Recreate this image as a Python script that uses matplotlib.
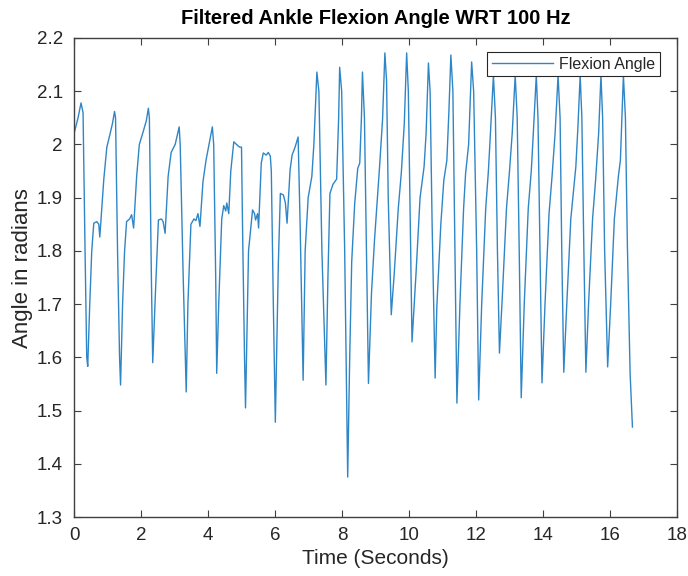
import matplotlib
matplotlib.use("Agg")
import matplotlib.pyplot as plt
import numpy as np

plt.rcParams['font.family'] = ['Liberation Sans', 'DejaVu Sans']

# Key points (time in seconds, angle in radians)
time_s = [
    0.00, 0.12, 0.21, 0.27, 0.33, 0.38, 0.41, 0.47, 0.53, 0.59, 0.68, 0.74, 0.77, 0.83, 0.89, 0.98, 1.07, 1.15, 1.21,
    1.24, 1.30, 1.36, 1.39, 1.45, 1.51, 1.57, 1.66, 1.72, 1.78, 1.87, 1.95, 2.07, 2.16, 2.22,
    2.25, 2.31, 2.35, 2.43, 2.52, 2.61, 2.66, 2.72, 2.81, 2.90, 3.02, 3.14,
    3.17, 3.26, 3.35, 3.40, 3.49, 3.58, 3.64, 3.70, 3.76, 3.85, 3.94, 4.03, 4.13,
    4.17, 4.23, 4.26, 4.32, 4.41, 4.47, 4.53, 4.56, 4.62, 4.68, 4.77, 4.85, 4.94, 5.00,
    5.03, 5.09, 5.12, 5.21, 5.33, 5.39, 5.42, 5.48, 5.51, 5.59, 5.65, 5.74, 5.80, 5.86,
    5.89, 5.95, 6.01, 6.10, 6.16, 6.25, 6.31, 6.36, 6.45, 6.51, 6.60, 6.69,
    6.75, 6.84, 6.90, 6.99, 7.10, 7.16, 7.25,
    7.31, 7.40, 7.52, 7.58, 7.64, 7.73, 7.84, 7.90, 7.93,
    7.99, 8.08, 8.17, 8.23, 8.29, 8.38, 8.47, 8.53, 8.58, 8.61,
    8.67, 8.73, 8.79, 8.88, 8.97, 9.12, 9.21, 9.28,
    9.33, 9.38, 9.47, 9.56, 9.68, 9.77, 9.86, 9.93,
    9.98, 10.04, 10.09, 10.21, 10.33, 10.45, 10.51, 10.58,
    10.63, 10.69, 10.78, 10.83, 10.95, 11.04, 11.13, 11.19, 11.25,
    11.31, 11.37, 11.43, 11.52, 11.63, 11.69, 11.78, 11.87,
    11.93, 12.02, 12.08, 12.17, 12.29, 12.37, 12.43, 12.52,
    12.58, 12.64, 12.70, 12.79, 12.91, 13.00, 13.08, 13.17,
    13.23, 13.29, 13.35, 13.44, 13.56, 13.65, 13.71, 13.80,
    13.85, 13.91, 13.97, 14.06, 14.18, 14.27, 14.36, 14.45,
    14.51, 14.56, 14.62, 14.71, 14.83, 14.98, 15.04, 15.11,
    15.16, 15.22, 15.28, 15.36, 15.48, 15.57, 15.66, 15.73,
    15.78, 15.84, 15.93, 16.02, 16.13, 16.25, 16.31, 16.40,
    16.46, 16.52, 16.60, 16.67,
]
angle_rad = [
    2.020, 2.050, 2.078, 2.060, 1.800, 1.600, 1.583, 1.700, 1.800, 1.852, 1.855, 1.850, 1.826, 1.880, 1.935, 1.995, 2.018, 2.040, 2.062,
    2.050, 1.800, 1.600, 1.548, 1.700, 1.800, 1.855, 1.860, 1.868, 1.843, 1.940, 2.000, 2.025, 2.045, 2.068,
    2.050, 1.750, 1.590, 1.720, 1.858, 1.860, 1.855, 1.833, 1.940, 1.985, 2.000, 2.033,
    2.000, 1.750, 1.535, 1.700, 1.850, 1.860, 1.857, 1.870, 1.846, 1.930, 1.970, 2.000, 2.033,
    2.000, 1.750, 1.570, 1.700, 1.860, 1.885, 1.875, 1.890, 1.870, 1.950, 2.005, 2.000, 1.995, 1.995,
    1.850, 1.600, 1.505, 1.800, 1.877, 1.870, 1.858, 1.870, 1.843, 1.965, 1.984, 1.980, 1.985, 1.978,
    1.950, 1.700, 1.478, 1.777, 1.908, 1.905, 1.890, 1.852, 1.952, 1.980, 1.995, 2.014,
    1.850, 1.557, 1.800, 1.900, 1.940, 2.000, 2.136,
    2.100, 1.800, 1.548, 1.750, 1.908, 1.925, 1.935, 2.050, 2.145,
    2.100, 1.800, 1.375, 1.600, 1.780, 1.890, 1.955, 1.965, 2.050, 2.136,
    2.050, 1.800, 1.551, 1.720, 1.820, 1.957, 2.046, 2.172,
    2.120, 1.900, 1.680, 1.758, 1.880, 1.946, 2.040, 2.172,
    2.100, 1.850, 1.629, 1.758, 1.900, 1.958, 2.020, 2.153,
    2.100, 1.850, 1.561, 1.694, 1.850, 1.933, 1.970, 2.060, 2.168,
    2.100, 1.800, 1.514, 1.700, 1.880, 1.946, 2.000, 2.155,
    2.100, 1.800, 1.520, 1.700, 1.880, 1.950, 2.020, 2.130,
    2.050, 1.800, 1.608, 1.720, 1.880, 1.950, 2.020, 2.130,
    2.050, 1.800, 1.524, 1.700, 1.880, 1.950, 2.020, 2.130,
    2.050, 1.800, 1.552, 1.700, 1.870, 1.940, 2.020, 2.130,
    2.050, 1.800, 1.572, 1.700, 1.860, 1.958, 2.030, 2.130,
    2.050, 1.800, 1.572, 1.700, 1.860, 1.933, 2.020, 2.130,
    2.050, 1.800, 1.582, 1.700, 1.860, 1.940, 1.970, 2.130,
    2.050, 1.807, 1.570, 1.469,
]

series_label = "Flexion Angle"
title_text = "Filtered Ankle Flexion Angle WRT 100 Hz"
x_label = "Time (Seconds)"
y_label = "Angle in radians"
x_ticks = [0, 2, 4, 6, 8, 10, 12, 14, 16, 18]
y_ticks = [1.3, 1.4, 1.5, 1.6, 1.7, 1.8, 1.9, 2.0, 2.1, 2.2]
y_tick_labels = ["1.3", "1.4", "1.5", "1.6", "1.7", "1.8", "1.9", "2", "2.1", "2.2"]

fig = plt.figure(figsize=(6.88, 5.76), dpi=100)
ax = fig.add_axes([74/688, 1 - 517/576, 603/688, 479/576])

ax.plot(time_s, angle_rad, color='#2f86c6', lw=1.0, label=series_label)

ax.set_xlim(0, 18)
ax.set_ylim(1.3, 2.2)
ax.set_xticks(x_ticks)
ax.set_yticks(y_ticks)
ax.set_yticklabels(y_tick_labels)

gray = '#262626'
for s in ax.spines.values():
    s.set_color('#404040')
    s.set_linewidth(1.0)
ax.tick_params(direction='in', length=5, width=0.8, color='#404040',
               top=True, right=True, labelsize=13.5, labelcolor=gray)
ax.tick_params(axis='x', pad=7)
ax.tick_params(axis='y', pad=8)

ax.set_xlabel(x_label, fontsize=15, color=gray, labelpad=4)
ax.set_ylabel(y_label, fontsize=16, color=gray, labelpad=1)
ax.yaxis.set_label_coords(-0.068, 0.52)
ax.set_title(title_text, fontsize=14.5, fontweight='bold', color='black', pad=10)

leg = ax.legend(loc='upper right', bbox_to_anchor=(0.972, 0.971), borderaxespad=0,
                fontsize=11.5, frameon=True, fancybox=False, framealpha=1,
                edgecolor='#262626', handlelength=3.8, handletextpad=0.4,
                borderpad=0.3)
leg.get_frame().set_linewidth(0.8)
for t in leg.get_texts():
    t.set_color(gray)

fig.savefig("out.png", dpi=100)
